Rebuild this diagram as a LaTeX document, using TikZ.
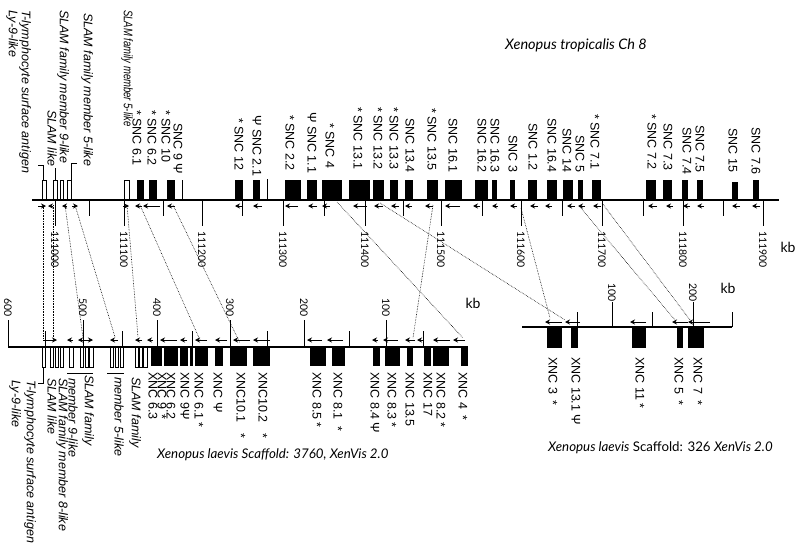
\documentclass[tikz,border=0pt]{standalone}
\usepackage{fontspec}
\setmainfont{Liberation Sans}
\newfontfamily\gillfont{Lato}
\usetikzlibrary{arrows.meta}

\tikzset{
  track/.style={line width=2.2pt},
  gene/.style={fill=black},
  slam/.style={draw=black, fill=white, line width=0.5pt},
  lbl/.style={rotate=-90, anchor=west, inner sep=0pt, font=\fontsize{12.5}{12.5}\selectfont},
  itlbl/.style={lbl, font=\fontsize{12.5}{12.5}\selectfont\itshape},
  scl/.style={rotate=-90, anchor=west, inner sep=0pt, font=\gillfont\fontsize{10.5}{10.5}\selectfont},
  ttl/.style={anchor=west, inner sep=0pt, font=\gillfont\fontsize{13.3}{13.3}\selectfont},
  dir/.style={-{Stealth[length=5pt,width=5pt]}, line width=1pt},
  link/.style={densely dotted, line width=0.6pt},
  tck/.style={line width=1pt},
}

\begin{document}
\begin{tikzpicture}[x=1pt,y=-1pt]
\useasboundingbox (0,0) rectangle (800,551);

% ---------- Xenopus tropicalis Ch 8 ----------
\node[ttl, font=\gillfont\fontsize{14.5}{14.5}\selectfont] (ttrop) at (505,45) {\itshape Xenopus tropicalis Ch 8};
\draw[track] (32,200) -- (779,200);
% scale
\foreach \x/\v in {55/111000,124/111100,202/111200,283/111300,365/111400,
                   441/111500,521/111600,602/111700,683/111800,763/111900}{
  \draw[tck] (\x,200) -- (\x,226);
  \node[scl] (tk\v) at (\x,231) {\v};
}
\foreach \x in {89,163,242,324,403,482,562,643,723}
  \draw[tck] (\x,200) -- (\x,216);
\node[font=\gillfont\fontsize{14}{14}\selectfont] (kbtop) at (788,247) {kb};
% genes
\foreach \a/\b in {42/46,53/57,60/63,67/71,124/129}
  \draw[slam] (\a,180) rectangle (\b,199);
\foreach \a/\b in {137/144,149/157,167/175,235/243,253/260,285/301,307/317,
                   322/342,349/370,373/384,390/398,405/413,427/438,445/462,
                   475/488,492/497,510/515,528/537,547/557,563/573,578/583,
                   592/601,646/656,663/672,682/688,697/703,753/759}
  \fill[gene] (\a,180) rectangle (\b,200);
\fill[gene] (732,182) rectangle (738,200);
\draw[tck] (182,180) -- (182,200);
\draw[tck] (267,179) -- (267,200);
% orientation
\foreach \a/\b in {38/46,53/48,67/62,72/78,123/129,142/135,160/143,175/167,
                   243/235,262/253,298/285,317/308,330/322,367/353,383/374,
                   399/391,412/405,433/425,460/445,480/473,498/492,517/510,
                   538/530,552/545,575/567,585/578,601/593,657/648,673/666,
                   690/683,704/697,740/732,760/752}
  \draw[dir] (\a,206) -- (\b,206);
% labels
\draw[tck] (38,165) -- (43,165) -- (43,180);
\draw[tck] (55,168) -- (55,180);
\draw[tck] (77,163) -- (71,163) -- (71,180);
\node[itlbl] (ly9t) at (25,10) {T-lymphocyte surface antigen};
\node[itlbl] (ly9tb) at (12,10) {Ly-9-like};
\node[itlbl] (s9t) at (63,10) {SLAM family member 9-like};
\node[itlbl] (sltb) at (52,110) {SLAM like};
\node[itlbl] (s5ta) at (87,13) {SLAM family member 5-like};
\node[itlbl] (s5tb) at (127,10) {\scalebox{0.76}[1]{SLAM family member 5-like}};
\foreach \x/\y/\t [count=\i] in {137/110/{* SNC 6.1},152/110/{* SNC 6.2},
    166/110/{* SNC 10},178/123/{SNC 9 Ψ},239/118/{* SNC 12},257/115/{Ψ SNC 2.1},
    290/115/{* SNC 2.2},312/112/{Ψ SNC 1.1},330/123/{* SNC 4},
    358/107/{* SNC 13.1},378/107/{* SNC 13.2},394/107/{* SNC 13.3},
    410/118/{SNC 13.4},432/108/{* SNC 13.5},453/118/{SNC 16.1},
    482/118/{SNC 16.2},495/118/{SNC 16.3},513/135/{SNC 3},533/123/{SNC 1.2},
    552/118/{SNC 16.4},567/128/{SNC 14},580/135/{SNC 5},595/114/{* SNC 7.1},
    652/114/{* SNC 7.2},668/123/{SNC 7.3},687/127/{SNC 7.4},700/125/{SNC 7.5},
    733/128/{SNC 15},756/127/{SNC 7.6}}
  \node[lbl] (snc\i) at (\x,\y) {\t};

% ---------- Xenopus laevis Scaffold 3760 ----------
\draw[track] (8,347) -- (468,347);
\foreach \x/\v in {8/600,83/500,157/400,230/300,304/200,386/100}{
  \draw[tck] (\x,347) -- (\x,320);
  \node[scl] (tl\v) at (\x,298) {\v};
}
\foreach \x in {45,122,192,267,349,423}
  \draw[tck] (\x,347) -- (\x,331);
\node[font=\gillfont\fontsize{14}{14}\selectfont] (kbleft) at (473,303) {kb};
\foreach \a/\b in {42/45,50/53,55/58,60/63,69/73,80/83,85/88,89/93,
                   110/113,115/118,120/123,135/138,139/142,143/147}
  \draw[slam] (\a,347) rectangle (\b,367);
\foreach \a/\b in {151/162,164/178,180/188,190/193,195/208,215/223,230/247,
                   253/270,310/326,332/345,373/380,385/400,407/413,424/431,
                   433/449,461/468}
  \fill[gene] (\a,347) rectangle (\b,366);
\foreach \a/\b in {43/57,73/67,83/78,83/93,118/110,142/135,153/147,177/160,
                   187/180,207/195,227/215,250/233,270/253,322/307,343/327,
                   378/372,398/383,415/405,423/417,450/433,465/453}
  \draw[dir] (\a,340) -- (\b,340);
\draw[tck] (43,367) -- (43,383) -- (38,383);
\draw[tck] (67,373) -- (93,373);
\draw[tck] (107,373) -- (124,373);
\node[itlbl] (ly9l) at (30,380) {T-lymphocyte surface antigen};
\node[itlbl] (ly9lb) at (15,380) {Ly-9-like};
\node[itlbl] (s8l) at (62,378) {SLAM family member 8-like};
\node[itlbl] (sllb) at (52,378) {SLAM like};
\node[itlbl] (s9l) at (88,375) {SLAM family};
\node[itlbl] (s9lb) at (73,378) {member 9-like};
\node[itlbl] (s5l) at (135,377) {SLAM family};
\node[itlbl] (s5lb) at (119,377) {member 5-like};
\foreach \x/\t [count=\i] in {153/{XNC 6.3},162/{XNC 9 \,*},171/{XNC 6.2},
    185/{XNC 9Ψ},199/{XNC 6.1 *},218/{XNC Ψ},241/{XNC10.1 \ \ *},
    263/{XNC10.2 \ \ *},317/{XNC 8.5 *},338/{XNC 8.1 \ *},375/{XNC 8.4 Ψ},
    392/{XNC 8.3 *},410/{XNC 13.5},428/{XNC 17},441/{XNC 8.2 *},463/{XNC 4 \ *}}
  \node[lbl] (xl\i) at (\x,372) {\t};
\node[ttl] (tsc3760) at (157,455) {\itshape Xenopus laevis Scaffold: 3760, XenVis 2.0};

% ---------- Xenopus laevis Scaffold 326 ----------
\draw[track] (522,327) -- (732,327);
\foreach \x/\v in {612/100,693/200}{
  \draw[tck] (\x,327) -- (\x,302);
  \node[scl] (tr\v) at (\x,283) {\v};
}
\foreach \x in {577,652,732}
  \draw[tck] (\x,327) -- (\x,312);
\node[font=\gillfont\fontsize{14}{14}\selectfont] (kbright) at (728,288) {kb};
\foreach \a/\b in {547/562,571/578,632/646,677/683,688/704}
  \fill[gene] (\a,327) rectangle (\b,348);
\foreach \a/\b in {562/545,580/565,646/630,688/672,710/688}
  \draw[dir] (\a,322) -- (\b,322);
\foreach \x/\t [count=\i] in {553/{XNC 3 \ *},576/{XNC 13.1 Ψ},640/{XNC 11 *},
    679/{XNC 5 \ *},698/{XNC 7 \ *}}
  \node[lbl] (xr\i) at (\x,357) {\t};
\node[ttl] (tsc326) at (548,448) {\textit{Xenopus laevis} Scaffold: 326 \textit{XenVis 2.0}};

% ---------- orthology links ----------
\foreach \n/\x/\y in {a/43/205,b/53/205,c/65/205,d/75/205,e/127/205,f/140/205,
                      g/173/205,h/337/202,i/433/205,j/380/203,k/521/208,
                      l/580/207,m/602/203}
  \coordinate (top\n) at (\x,\y);
\foreach \n/\x/\y in {a/43/338,b/53/338,c/83/338,d/115/337,e/138/337,f/200/340,
                      g/240/343,h/463/338,i/413/338,j/565/320,k/550/318,
                      l/675/320,m/690/320}
  \coordinate (bot\n) at (\x,\y);
\foreach \n in {a,b,c,d,e,f,g,h,i,j,k,l,m}
  \draw[link] (top\n) -- (bot\n);
\end{tikzpicture}
\end{document}
